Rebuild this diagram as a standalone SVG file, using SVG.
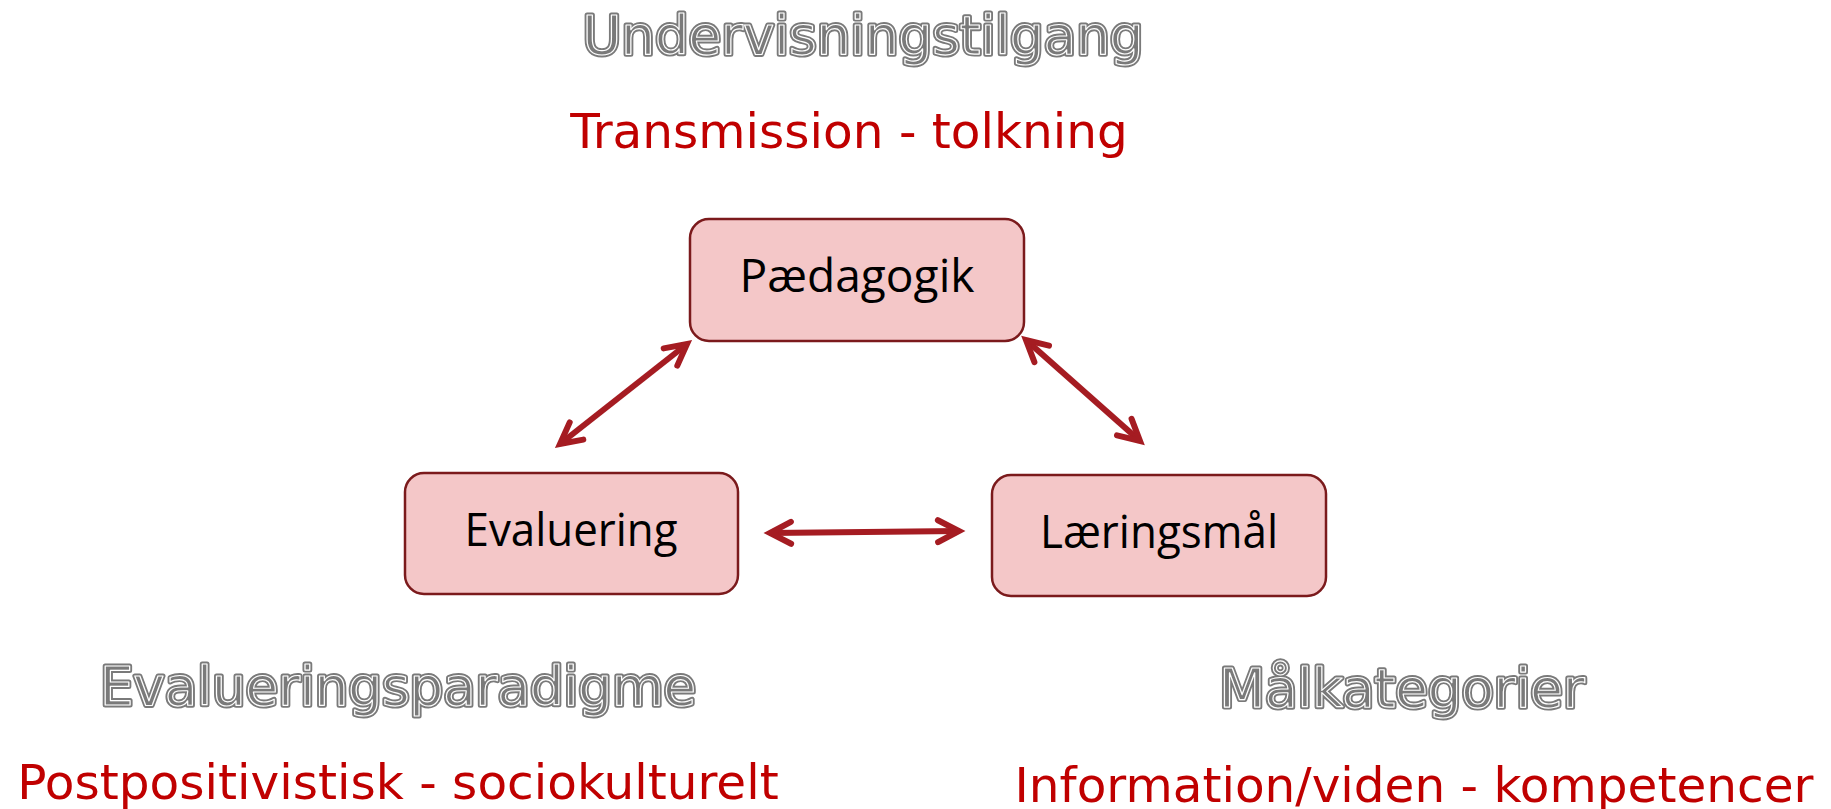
<svg xmlns="http://www.w3.org/2000/svg" width="1831" height="809" viewBox="0 0 1831 809">
  <style>
    .node rect { fill: #F4C7C8; stroke: #7B1A1C; stroke-width: 2.5; }
    .node text { font-family: "Open Sans", "Noto Sans", sans-serif; font-size: 46px; fill: #000; text-anchor: middle; }
    .heading { font-family: "DejaVu Sans", Verdana, sans-serif; font-size: 53px; text-anchor: middle; }
    .heading .base { fill: #7A7A7A; stroke: #7A7A7A; stroke-width: 5; stroke-linejoin: round; }
    .heading .inner { fill: none; stroke: #FFFFFF; stroke-width: 1.2; stroke-linejoin: round; }
    .sub { font-family: "DejaVu Sans", Verdana, sans-serif; font-size: 48.5px; fill: #C00000; text-anchor: middle; }
    .link { stroke: #A51C22; stroke-width: 6; fill: none; marker-start: url(#chev); marker-end: url(#chev); }
  </style>
  <defs>
    <marker id="chev" viewBox="-30 -20 40 40" markerWidth="40" markerHeight="40" refX="0" refY="0" orient="auto-start-reverse" markerUnits="userSpaceOnUse">
      <path d="M-21,-11 L0,0 L-21,11" fill="none" stroke="#A51C22" stroke-width="6" stroke-linecap="round" stroke-linejoin="miter"/>
    </marker>
  </defs>

  <rect width="1831" height="809" fill="#FFFFFF"/>

  <!-- outlined category headings -->
  <g id="heading-undervisningstilgang" class="heading">
    <text class="base" x="863" y="54">Undervisningstilgang</text>
    <text class="inner" x="863" y="54">Undervisningstilgang</text>
  </g>
  <g id="heading-evalueringsparadigme" class="heading">
    <text class="base" x="398" y="705">Evalueringsparadigme</text>
    <text class="inner" x="398" y="705">Evalueringsparadigme</text>
  </g>
  <g id="heading-malkategorier" class="heading">
    <text class="base" x="1402" y="707">Målkategorier</text>
    <text class="inner" x="1402" y="707">Målkategorier</text>
  </g>

  <!-- red range captions -->
  <text id="caption-transmission" class="sub" x="849" y="148">Transmission - tolkning</text>
  <text id="caption-postpositivistisk" class="sub" x="398" y="799">Postpositivistisk - sociokulturelt</text>
  <text id="caption-information" class="sub" x="1414" y="802">Information/viden - kompetencer</text>

  <!-- connectors -->
  <g id="connectors">
    <line class="link" x1="560" y1="444" x2="687" y2="344"/>
    <line class="link" x1="1026" y1="340" x2="1140" y2="441"/>
    <line class="link" x1="770" y1="533" x2="959" y2="531"/>
  </g>

  <!-- nodes -->
  <g id="node-paedagogik" class="node">
    <rect x="690" y="219" width="334" height="122" rx="19"/>
    <text x="857" y="292" textLength="235" lengthAdjust="spacingAndGlyphs">Pædagogik</text>
  </g>
  <g id="node-evaluering" class="node">
    <rect x="405" y="473" width="333" height="121" rx="19"/>
    <text x="571" y="546" textLength="213" lengthAdjust="spacingAndGlyphs">Evaluering</text>
  </g>
  <g id="node-laeringsmaal" class="node">
    <rect x="992" y="475" width="334" height="121" rx="19"/>
    <text x="1159" y="548" textLength="238" lengthAdjust="spacingAndGlyphs">Læringsmål</text>
  </g>
</svg>
